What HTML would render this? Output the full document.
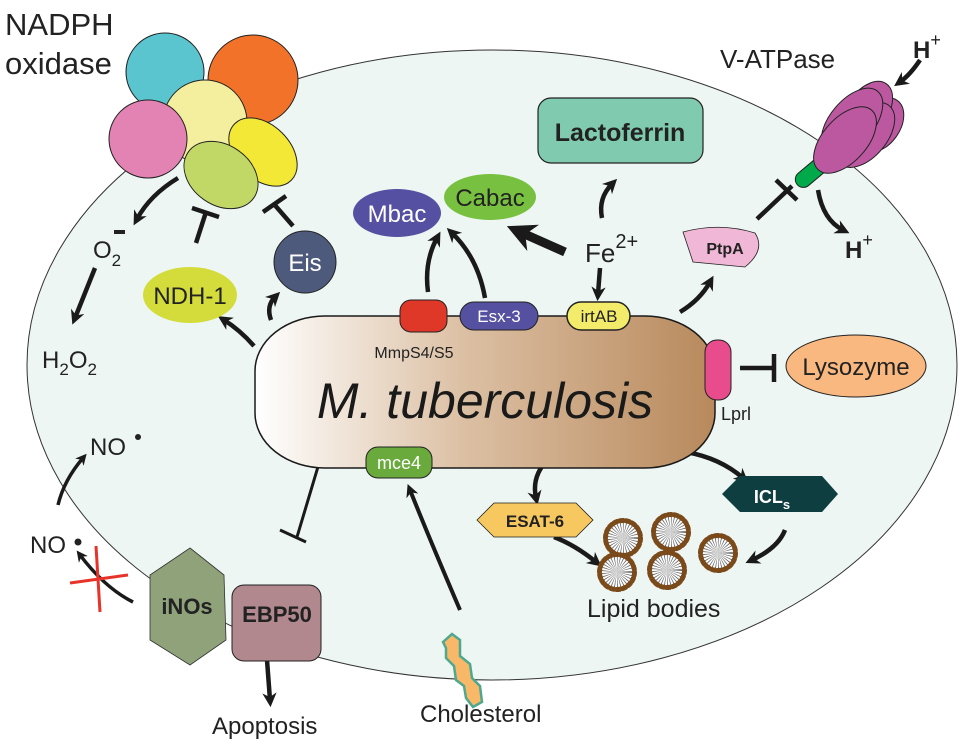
<!DOCTYPE html>
<html><head><meta charset="utf-8"><style>
html,body{margin:0;padding:0;background:#fff}
svg{display:block}
text{font-family:"Liberation Sans",sans-serif}
</style></head><body>
<svg width="963" height="749" viewBox="0 0 963 749" xmlns="http://www.w3.org/2000/svg">
<defs>
<marker id="ah" viewBox="0 0 10 10" refX="5" refY="5" markerWidth="3.2" markerHeight="3.2" orient="auto-start-reverse"><path d="M0,0 L10,5 L0,10 L3,5 z" fill="#1a1a1a"/></marker>
<linearGradient id="bg" x1="0" x2="1" y1="0" y2="0"><stop offset="0" stop-color="#fff"/><stop offset="0.45" stop-color="#dcc0a4"/><stop offset="1" stop-color="#b8895c"/></linearGradient>
<g id="lip"><circle r="16" fill="#fff"/><circle r="8" fill="none" stroke="#666" stroke-width="16" stroke-dasharray="0.5 1.2"/><circle r="17.5" fill="none" stroke="#7a4a1a" stroke-width="5" stroke-dasharray="3.5 2.6" stroke-linecap="round"/></g>
</defs>
<ellipse cx="492" cy="365" rx="465" ry="315" fill="#edf6f2" stroke="#333" stroke-width="1"/>
<text x="5" y="35" font-size="31" fill="#222">NADPH</text>
<text x="5" y="74" font-size="31" fill="#222">oxidase</text>
<g stroke="#222" stroke-width="1">
<circle cx="165" cy="72" r="39" fill="#5bc5cf"/>
<circle cx="253" cy="80" r="45" fill="#f2722a"/>
<circle cx="205" cy="122" r="42" fill="#f3ef9e"/>
<circle cx="148" cy="139" r="39" fill="#e283b4"/>
<ellipse cx="263" cy="152" rx="40" ry="27" transform="rotate(45 263 152)" fill="#f2e835"/>
<ellipse cx="221" cy="175" rx="40" ry="30" transform="rotate(35 221 175)" fill="#c1d866"/>
</g>
<g stroke="#1a1a1a" stroke-width="4.5" fill="none">
<path d="M178,178 Q150,195 137,219" marker-end="url(#ah)"/>
<path d="M95,268 L75,318" marker-end="url(#ah)"/>
<path d="M196,243 L206,212 M192,208 L219,217"/>
<path d="M293,226 L273,203 M263,212 L286,196"/>
<path d="M254,346 Q240,330 224,320" marker-end="url(#ah)"/>
<path d="M271,320 Q266,306 275,297" marker-end="url(#ah)"/>
<path d="M428,292 Q424,262 437,238" marker-end="url(#ah)"/>
<path d="M485,298 Q478,258 452,233" marker-end="url(#ah)"/>
<path d="M600,268 L598,294" marker-end="url(#ah)"/>
<path d="M602,218 Q598,198 612,184" marker-end="url(#ah)"/>
<path d="M680,312 Q700,300 710,282" marker-end="url(#ah)"/>
<path d="M757,219 L792,186 M776,180 L797,200"/>
<path d="M818,190 Q823,220 843,230" marker-end="url(#ah)"/>
<path d="M920,60 Q910,75 900,82" marker-end="url(#ah)"/>
<path d="M740,368 L772,368 M774,354 L774,382"/>
<path d="M320,460 L297,537 M280,530 L306,542" stroke-width="3"/>
<path d="M267,660 L270,700" marker-end="url(#ah)"/>
<path d="M460,610 Q430,540 410,490" marker-end="url(#ah)" stroke-width="4"/>
<path d="M58,505 Q64,480 83,458" marker-end="url(#ah)" stroke-width="3.5"/>
<path d="M133,602 Q105,588 80,555" marker-end="url(#ah)" stroke-width="3.5"/>
<path d="M543,465 Q532,480 536,498" marker-end="url(#ah)"/>
<path d="M554,537 Q575,545 596,562" marker-end="url(#ah)"/>
<path d="M686,452 Q720,458 743,478" marker-end="url(#ah)"/>
<path d="M785,530 Q778,548 752,560" marker-end="url(#ah)"/>
</g>
<path d="M565,252 L520,232" stroke="#1a1a1a" stroke-width="9" marker-end="url(#ah)" fill="none"/>
<path d="M96,546 L100,612 M70,583 L128,575" stroke="#e8332a" stroke-width="3"/>
<text x="93" y="258" font-size="24" fill="#222">O<tspan font-size="17" dy="8">2</tspan></text>
<rect x="114" y="230" width="11" height="4" fill="#222"/>
<text x="42" y="368" font-size="24" fill="#222">H<tspan font-size="17" dy="7">2</tspan><tspan dy="-7">O</tspan><tspan font-size="17" dy="7">2</tspan></text>
<ellipse cx="190" cy="295" rx="47" ry="28" fill="#d4dc3c"/>
<text x="190" y="304" font-size="24" text-anchor="middle" fill="#222">NDH-1</text>
<circle cx="305" cy="262" r="31" fill="#4e5a7c" stroke="#222" stroke-width="1"/>
<text x="305" y="271" font-size="24" text-anchor="middle" fill="#fff">Eis</text>
<ellipse cx="397" cy="213" rx="44" ry="24" fill="#5550a2"/>
<text x="397" y="222" font-size="24" text-anchor="middle" fill="#fff">Mbac</text>
<ellipse cx="490" cy="197" rx="46" ry="23" fill="#78c040"/>
<text x="490" y="206" font-size="24" text-anchor="middle" fill="#222">Cabac</text>
<rect x="538" y="98" width="165" height="65" rx="13" fill="#80cbb0" stroke="#222" stroke-width="1.2"/>
<text x="620" y="141" font-size="25" font-weight="bold" text-anchor="middle" fill="#222">Lactoferrin</text>
<text x="585" y="262" font-size="26" fill="#222">Fe<tspan font-size="20" dy="-14">2+</tspan></text>
<text x="720" y="68" font-size="26" fill="#222">V-ATPase</text>
<text x="913" y="58" font-size="24" font-weight="bold" fill="#222">H<tspan font-size="18" dy="-12" font-weight="normal">+</tspan></text>
<text x="845" y="258" font-size="24" font-weight="bold" fill="#222">H<tspan font-size="18" dy="-12" font-weight="normal">+</tspan></text>
<g stroke="#222" stroke-width="1" fill="#bb58a0">
<rect x="793" y="165" width="36" height="16" rx="8" transform="rotate(-40 811 173)" fill="#00a94a"/>
<ellipse cx="880" cy="125" rx="20" ry="30" transform="rotate(35 880 125)"/>
<ellipse cx="868" cy="110" rx="20" ry="32" transform="rotate(35 868 110)"/>
<ellipse cx="865" cy="135" rx="22" ry="38" transform="rotate(40 865 135)"/>
<ellipse cx="852" cy="122" rx="22" ry="40" transform="rotate(40 852 122)"/>
<ellipse cx="845" cy="140" rx="22" ry="40" transform="rotate(42 845 140)"/>
</g>
<path d="M683,232 Q720,222 755,233 Q766,250 745,267 L693,262 Z" fill="#f0b8d6" stroke="#222" stroke-width="0.8"/>
<text x="725" y="254" font-size="16" font-weight="bold" text-anchor="middle" fill="#222">PtpA</text>
<ellipse cx="856" cy="366" rx="70" ry="31" fill="#f8b880" stroke="#222" stroke-width="1"/>
<text x="856" y="375" font-size="24" text-anchor="middle" fill="#222">Lysozyme</text>
<rect x="255" y="316" width="460" height="152" rx="70" ry="55" fill="url(#bg)" stroke="#1a1a1a" stroke-width="1.5"/>
<text x="485" y="418" font-size="50" font-style="italic" text-anchor="middle" fill="#1a1a1a">M. tuberculosis</text>
<rect x="400" y="300" width="47" height="32" rx="11" fill="#e03828" stroke="#222" stroke-width="1"/>
<text x="414" y="358" font-size="16" text-anchor="middle" fill="#222">MmpS4/S5</text>
<rect x="460" y="302" width="78" height="28" rx="14" fill="#5550a0" stroke="#222" stroke-width="1"/>
<text x="499" y="322" font-size="17" text-anchor="middle" fill="#fff">Esx-3</text>
<rect x="567" y="302" width="63" height="28" rx="14" fill="#f2ec6a" stroke="#222" stroke-width="1.5"/>
<text x="599" y="322" font-size="17" text-anchor="middle" fill="#222">irtAB</text>
<rect x="705" y="340" width="26" height="60" rx="12" fill="#e84c8c" stroke="#222" stroke-width="1"/>
<text x="721" y="420" font-size="18" fill="#222">Lprl</text>
<rect x="366" y="447" width="66" height="31" rx="12" fill="#6aaa3c" stroke="#222" stroke-width="1"/>
<text x="399" y="469" font-size="18" text-anchor="middle" fill="#fff">mce4</text>
<polygon points="477,520 494,503 576,503 593,520 576,537 494,537" fill="#f8c860" stroke="#222" stroke-width="0.8"/>
<text x="535" y="527" font-size="17" font-weight="bold" text-anchor="middle" fill="#222">ESAT-6</text>
<polygon points="722,494 740,476 822,476 838,494 822,512 740,512" fill="#0e3e40"/>
<text x="772" y="503" font-size="18" font-weight="bold" text-anchor="middle" fill="#fff">ICL<tspan font-size="13" dy="6">s</tspan></text>
<use href="#lip" x="623" y="538"/><use href="#lip" x="671" y="532"/><use href="#lip" x="718" y="553"/><use href="#lip" x="617" y="572"/><use href="#lip" x="667" y="570"/>
<text x="587" y="617" font-size="25" fill="#222">Lipid bodies</text>
<polygon points="190,548 224,575 226,640 190,665 150,640 150,575" fill="#8fa27a" stroke="#333" stroke-width="0.8"/>
<text x="187" y="614" font-size="22" font-weight="bold" text-anchor="middle" fill="#222">iNOs</text>
<rect x="232" y="585" width="89" height="76" rx="12" fill="#b0888e" stroke="#222" stroke-width="1"/>
<text x="277" y="622" font-size="22" font-weight="bold" text-anchor="middle" fill="#222">EBP50</text>
<text x="212" y="734" font-size="24" fill="#222">Apoptosis</text>
<path d="M443,642 L452,634 L460,640 L460,656 L470,664 L472,678 L480,686 L482,702 L473,707 L466,698 L464,686 L456,680 L454,666 L446,658 L446,648 Z" fill="#f8b868" stroke="#4ea890" stroke-width="2.5"/>
<text x="420" y="722" font-size="24" fill="#222">Cholesterol</text>
<text x="90" y="455" font-size="24" fill="#222">NO</text><circle cx="138" cy="437" r="3" fill="#222"/>
<text x="30" y="553" font-size="24" fill="#222">NO</text><circle cx="78" cy="542" r="3.5" fill="#222"/>
</svg>
</body></html>
